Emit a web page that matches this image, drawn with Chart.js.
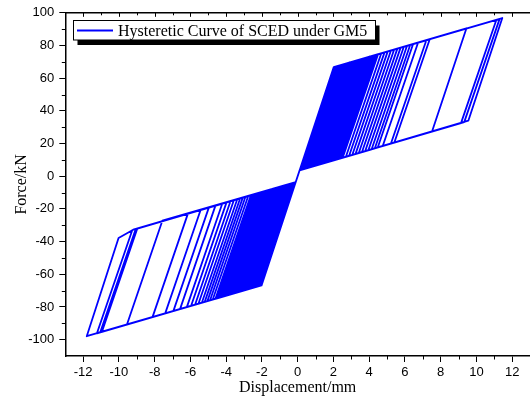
<!DOCTYPE html>
<html>
<head>
<meta charset="utf-8">
<script src="https://cdn.jsdelivr.net/npm/chart.js@4/dist/chart.umd.min.js"></script>
<style>
  html, body { margin: 0; padding: 0; background: #fff; }
  #wrap { width: 530px; height: 398px; position: relative; }
</style>
</head>
<body>
<div id="wrap"><canvas id="c" width="530" height="398"></canvas></div>
<script>
// Hysteresis path of the self-centering damper: displacement (mm) and force (kN), vertex by vertex
const seriesName = 'Hysteretic Curve of SCED under GM5';

const disp = [
  0,
  -2.02, -2.10, -0.12,
  -0.11, 2.02, 2.10, 0.12,
  0.11, -2.02, -3.20, -1.22,
  -0.11, 2.02, 2.30, 0.32,
  0.11, -2.02, -2.50, -0.52,
  -0.11, 2.02, 2.60, 0.62, 0.50, 2.48, 3.20, 1.22,
  0.11, -2.02, -3.00, -1.02, -0.80, -2.78, -2.90, -0.92,
  -0.11, 2.02, 4.00, 2.02,
  0.11, -2.02, -4.50, -2.52,
  -0.11, 2.02, 5.40, 3.42,
  0.11, -2.02, -6.20, -4.22,
  -0.11, 2.02, 7.20, 5.22,
  0.11, -2.02, -8.12, -6.14,
  -0.11, 2.02, 9.44, 7.52,
  0.11, -2.02, -11.80, -10.02, -9.20,
  -0.11, 2.02, 11.45, 9.55,
  0.11, -2.02, -11.23, -9.25,
  -0.11, 2.02, 11.30, 9.32,
  0.11, -2.02, -11.04, -9.06,
  -0.11, 2.02, 11.12, 9.14,
  0.11, -2.02, -10.95, -8.97,
  -0.11, 2.02, 7.39, 5.41,
  0.11, -2.02, -9.55, -7.57,
  -0.11, 2.02, 6.74, 4.76, 0.86, 2.84, 3.00, 1.02,
  0.11, -2.02, -7.41, -5.43, -0.86, -2.84, -3.10, -1.12,
  -0.11, 2.02, 6.46, 4.48,
  0.11, -2.02, -6.95, -4.97,
  -0.11, 2.02, 6.30, 4.32, 0.70, 2.68, 2.90, 0.92,
  0.11, -2.02, -6.58, -4.60, -0.70, -2.68, -2.80, -0.82,
  -0.11, 2.02, 6.12, 4.14,
  0.11, -2.02, -5.96, -3.98,
  -0.11, 2.02, 5.94, 3.96, 0.60, 2.58, 2.70, 0.72,
  0.11, -2.02, -5.74, -3.76, -0.60, -2.58, -2.70, -0.72,
  -0.11, 2.02, 5.76, 3.78,
  0.11, -2.02, -5.55, -3.57,
  -0.11, 2.02, 5.58, 3.60,
  0.11, -2.02, -5.36, -3.38,
  -0.11, 2.02, 5.22, 3.24, 0.40, 2.38, 2.50, 0.52,
  0.11, -2.02, -5.20, -3.22, -0.40, -2.38, -2.40, -0.42,
  -0.11, 2.02, 5.04, 3.06,
  0.11, -2.02, -5.05, -3.07,
  -0.11, 2.02, 4.86, 2.88,
  0.11, -2.02, -4.90, -2.92,
  -0.11, 2.02, 4.68, 2.70, 0.30, 2.28, 2.40, 0.42,
  0.11, -2.02, -4.75, -2.77, -0.30, -2.28, -2.30, -0.32,
  -0.11, 2.02, 4.50, 2.52,
  0.11, -2.02, -4.60, -2.62,
  -0.11, 2.02, 4.40, 2.42,
  0.11, -2.02, -4.40, -2.42,
  -0.11, 2.02, 4.30, 2.32, 0.80, 2.78, 3.10, 1.12,
  0.11, -2.02, -4.30, -2.32, -0.50, -2.48, -2.60, -0.62,
  -0.11, 2.02, 4.20, 2.22,
  0.11, -2.02, -4.20, -2.22,
  -0.11, 2.02, 4.10, 2.12,
  0.11, -2.02, -4.10, -2.12,
  -0.11, 2.02, 3.90, 1.92, 0.20, 2.18, 2.20, 0.22,
  0.11, -2.02, -4.00, -2.02, -0.20, -2.18, -2.20, -0.22,
  -0.11, 2.02, 3.80, 1.82,
  0.11, -2.02, -3.90, -1.92,
  -0.11, 2.02, 3.70, 1.72,
  0.11, -2.02, -3.80, -1.82,
  -0.11, 2.02, 3.60, 1.62,
  0.11, -2.02, -3.70, -1.72,
  -0.11, 2.02, 3.50, 1.52,
  0.11, -2.02, -3.60, -1.62,
  -0.11, 2.02, 3.40, 1.42,
  0.11, -2.02, -3.50, -1.52,
  -0.11, 2.02, 3.30, 1.32,
  0.11, -2.02, -3.40, -1.42,
  -0.11, 2.02, 2.80, 0.82,
  0.11, -2.02, -3.30, -1.32,
  -0.11, 0
];

const force = [
  0,
  -66.8, -67.0, -3.7,
  -3.65, 66.8, 67.0, 3.7,
  3.65, -66.8, -70.5, -7.2,
  -3.65, 66.8, 67.7, 4.3,
  3.65, -66.8, -68.3, -5.0,
  -3.65, 66.8, 68.6, 5.3, 4.9, 68.2, 70.5, 7.2,
  3.65, -66.8, -69.9, -6.6, -5.9, -69.1, -69.6, -6.2,
  -3.65, 66.8, 73.1, 9.8,
  3.65, -66.8, -74.7, -11.4,
  -3.65, 66.8, 77.5, 14.2,
  3.65, -66.8, -80.1, -16.8,
  -3.65, 66.8, 83.2, 20.0,
  3.65, -66.8, -86.2, -22.9,
  -3.65, 66.8, 90.4, 27.4,
  3.65, -66.8, -97.9, -37.8, -32.7,
  -3.65, 66.8, 96.8, 34.0,
  3.65, -66.8, -96.1, -32.9,
  -3.65, 66.8, 96.3, 33.1,
  3.65, -66.8, -95.4, -32.3,
  -3.65, 66.8, 95.7, 32.5,
  3.65, -66.8, -95.2, -32.0,
  -3.65, 66.8, 83.8, 20.6,
  3.65, -66.8, -90.7, -27.2,
  -3.65, 66.8, 81.8, 18.5, 6.1, 69.3, 69.9, 6.6,
  3.65, -66.8, -83.9, -20.7, -6.1, -69.3, -70.2, -6.9,
  -3.65, 66.8, 80.9, 17.6,
  3.65, -66.8, -82.4, -19.2,
  -3.65, 66.8, 80.4, 17.1, 5.5, 68.8, 69.6, 6.2,
  3.65, -66.8, -81.3, -18.0, -5.5, -68.8, -69.2, -5.9,
  -3.65, 66.8, 79.8, 16.5,
  3.65, -66.8, -79.3, -16.0,
  -3.65, 66.8, 79.2, 16.0, 5.2, 68.5, 68.9, 5.6,
  3.65, -66.8, -78.6, -15.3, -5.2, -68.5, -68.9, -5.6,
  -3.65, 66.8, 78.7, 15.4,
  3.65, -66.8, -78.0, -14.7,
  -3.65, 66.8, 78.1, 14.8,
  3.65, -66.8, -77.4, -14.1,
  -3.65, 66.8, 76.9, 13.7, 4.6, 67.9, 68.3, 5.0,
  3.65, -66.8, -76.9, -13.6, -4.6, -67.9, -68.0, -4.6,
  -3.65, 66.8, 76.4, 13.1,
  3.65, -66.8, -76.4, -13.1,
  -3.65, 66.8, 75.8, 12.5,
  3.65, -66.8, -75.9, -12.6,
  -3.65, 66.8, 75.2, 11.9, 4.3, 67.6, 68.0, 4.6,
  3.65, -66.8, -75.4, -12.2, -4.3, -67.6, -67.7, -4.3,
  -3.65, 66.8, 74.7, 11.4,
  3.65, -66.8, -75.0, -11.7,
  -3.65, 66.8, 74.3, 11.0,
  3.65, -66.8, -74.3, -11.0,
  -3.65, 66.8, 74.0, 10.7, 5.9, 69.1, 70.2, 6.9,
  3.65, -66.8, -74.0, -10.7, -4.9, -68.2, -68.6, -5.3,
  -3.65, 66.8, 73.7, 10.4,
  3.65, -66.8, -73.7, -10.4,
  -3.65, 66.8, 73.4, 10.1,
  3.65, -66.8, -73.4, -10.1,
  -3.65, 66.8, 72.7, 9.4, 3.9, 67.2, 67.3, 4.0,
  3.65, -66.8, -73.1, -9.8, -3.9, -67.2, -67.3, -4.0,
  -3.65, 66.8, 72.4, 9.1,
  3.65, -66.8, -72.7, -9.4,
  -3.65, 66.8, 72.1, 8.8,
  3.65, -66.8, -72.4, -9.1,
  -3.65, 66.8, 71.8, 8.5,
  3.65, -66.8, -72.1, -8.8,
  -3.65, 66.8, 71.5, 8.2,
  3.65, -66.8, -71.8, -8.5,
  -3.65, 66.8, 71.2, 7.8,
  3.65, -66.8, -71.5, -8.2,
  -3.65, 66.8, 70.8, 7.5,
  3.65, -66.8, -71.2, -7.8,
  -3.65, 66.8, 69.2, 5.9,
  3.65, -66.8, -70.8, -7.5,
  -3.65, 0
];

// Axis ticks
const xTicks = [-12, -10, -8, -6, -4, -2, 0, 2, 4, 6, 8, 10, 12];
const xMinorTicks = [-11, -9, -7, -5, -3, -1, 1, 3, 5, 7, 9, 11];
const yTicks = [-100, -80, -60, -40, -20, 0, 20, 40, 60, 80, 100];
const yMinorTicks = [-90, -70, -50, -30, -10, 10, 30, 50, 70, 90];

const points = disp.map((d, i) => ({ x: d, y: force[i] }));

const LINE_BLUE = '#0000ff';
const serif = '"Liberation Serif", "Times New Roman", serif';
const sans = '"Liberation Sans", Arial, sans-serif';

// Extra frame pieces: top border, minor ticks, inward top ticks, and a shadowed legend box
const framePlugin = {
  id: 'frame',
  afterDraw(chart) {
    const { ctx, chartArea: a, scales: { x, y } } = chart;
    ctx.save();
    ctx.strokeStyle = '#000';
    ctx.lineWidth = 1.5;
    ctx.beginPath();
    ctx.moveTo(a.left, a.top);
    ctx.lineTo(a.right, a.top);
    ctx.stroke();

    ctx.lineWidth = 1;
    ctx.beginPath();
    xMinorTicks.forEach(v => {
      const px = Math.round(x.getPixelForValue(v)) + 0.5;
      ctx.moveTo(px, a.bottom); ctx.lineTo(px, a.bottom + 3.5);
      ctx.moveTo(px, a.top); ctx.lineTo(px, a.top + 2.5);
    });
    xTicks.forEach(v => {
      const px = Math.round(x.getPixelForValue(v)) + 0.5;
      ctx.moveTo(px, a.top); ctx.lineTo(px, a.top + 4);
    });
    yMinorTicks.forEach(v => {
      const py = Math.round(y.getPixelForValue(v)) + 0.5;
      ctx.moveTo(a.left, py); ctx.lineTo(a.left - 3.5, py);
    });
    ctx.stroke();

    // legend with drop shadow
    const bx = 73.5, by = 20.5, bw = 302, bh = 19.5;
    ctx.fillStyle = '#000';
    ctx.fillRect(bx + 4, by + 5, bw, bh);
    ctx.fillStyle = '#fff';
    ctx.fillRect(bx, by, bw, bh);
    ctx.strokeStyle = '#000';
    ctx.lineWidth = 1;
    ctx.strokeRect(bx, by, bw, bh);
    ctx.strokeStyle = LINE_BLUE;
    ctx.lineWidth = 2;
    ctx.beginPath();
    ctx.moveTo(77, 30.5); ctx.lineTo(113, 30.5);
    ctx.stroke();
    ctx.fillStyle = '#000';
    ctx.font = '16px ' + serif;
    ctx.textBaseline = 'alphabetic';
    ctx.textAlign = 'left';
    ctx.fillText(chart.data.datasets[0].label, 118, 36);
    ctx.restore();
  }
};

new Chart(document.getElementById('c'), {
  type: 'scatter',
  data: {
    datasets: [{
      label: seriesName,
      data: points,
      showLine: true,
      borderColor: LINE_BLUE,
      backgroundColor: LINE_BLUE,
      borderWidth: 1.8,
      borderJoinStyle: 'round',
      pointRadius: 0,
      tension: 0,
      fill: false
    }]
  },
  options: {
    responsive: false,
    animation: false,
    events: [],
    layout: { padding: { top: 10.7, right: 0, bottom: 0, left: 0 } },
    plugins: { legend: { display: false }, tooltip: { enabled: false } },
    scales: {
      x: {
        type: 'linear',
        min: -13, max: 13,
        afterBuildTicks: s => { s.ticks = xTicks.map(v => ({ value: v })); },
        afterFit: s => { s.height = 42; },
        grid: { drawOnChartArea: false, drawTicks: true, tickLength: 6, color: '#000', lineWidth: 1 },
        border: { display: true, color: '#000', width: 1.5 },
        ticks: { color: '#000', padding: 3, autoSkip: false, maxRotation: 0, font: { family: sans, size: 13 } },
        title: { display: true, text: 'Displacement/mm', color: '#000', font: { family: serif, size: 16 }, padding: { top: 0, bottom: 1 } }
      },
      y: {
        type: 'linear',
        min: -110, max: 100,
        afterBuildTicks: s => { s.ticks = yTicks.map(v => ({ value: v })); },
        afterFit: s => { s.width = 65.3; },
        grid: { drawOnChartArea: false, drawTicks: true, tickLength: 6, color: '#000', lineWidth: 1 },
        border: { display: true, color: '#000', width: 1.5 },
        ticks: { color: '#000', padding: 5, font: { family: sans, size: 13 } },
        title: { display: true, text: 'Force/kN', color: '#000', font: { family: serif, size: 16 }, padding: { top: 12, bottom: 0 } }
      }
    }
  },
  plugins: [framePlugin]
});
</script>
</body>
</html>
